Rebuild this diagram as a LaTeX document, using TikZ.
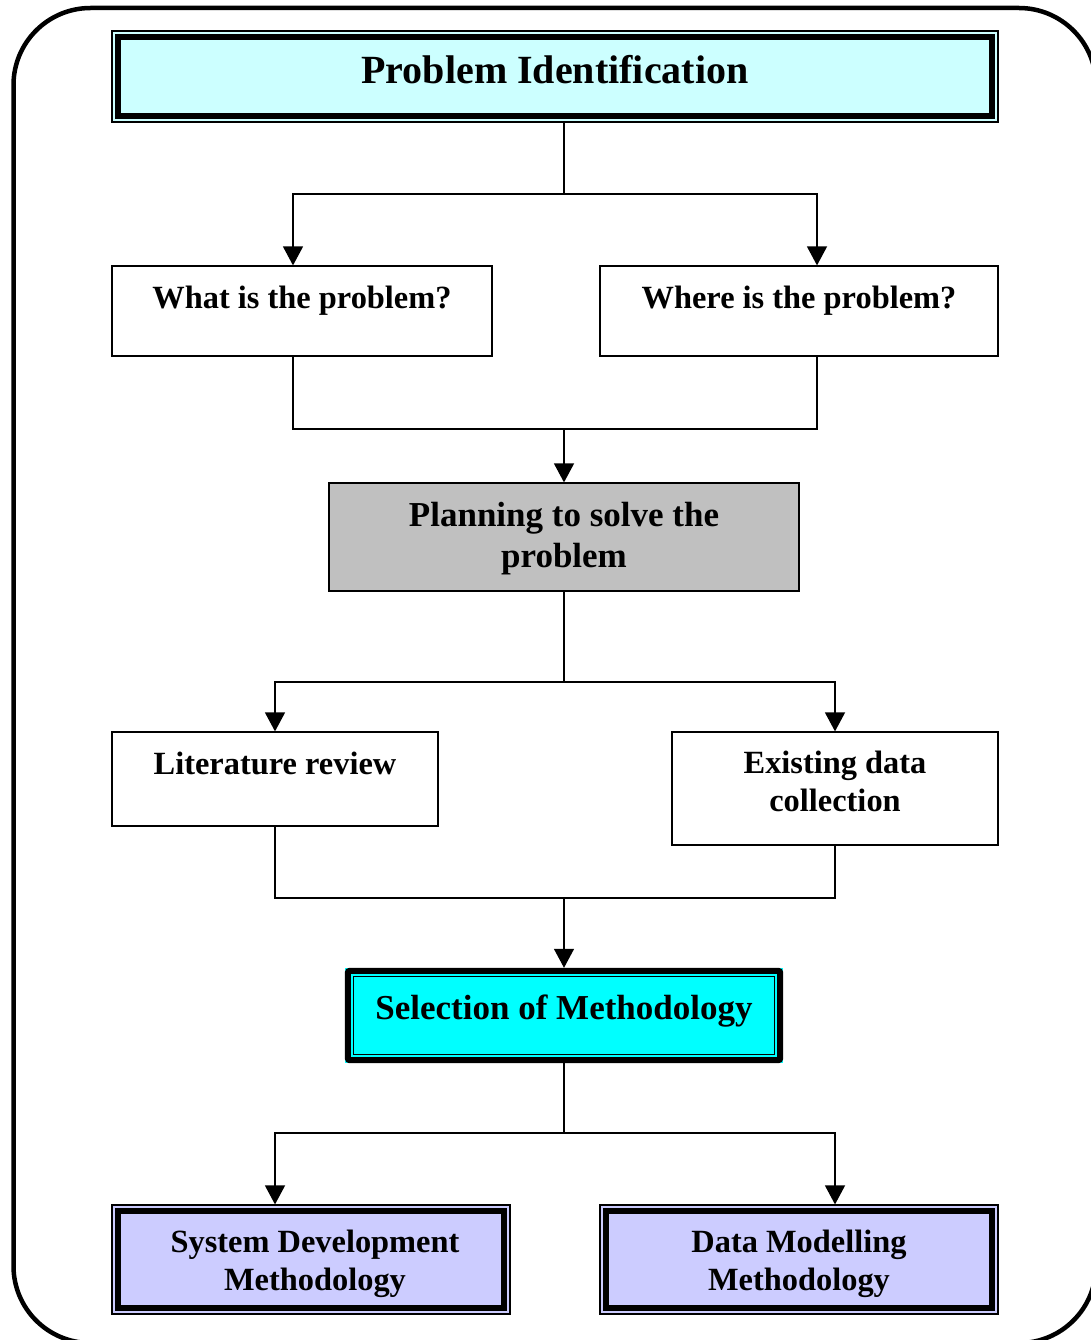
\documentclass[tikz,border=0pt]{standalone}
\usepackage{fontspec}
\setmainfont{Liberation Serif}
\usetikzlibrary{arrows.meta}
\definecolor{lcyan}{HTML}{CCFFFF}
\definecolor{fcyan}{HTML}{00FFFF}
\definecolor{lgray}{HTML}{C0C0C0}
\definecolor{lviolet}{HTML}{CCCCFF}
\tikzset{
  box/.style={draw=black, line width=1.2pt, inner sep=0pt, minimum width=#1},
  txt/.style={font=\bfseries\fontsize{32.4}{38}\selectfont, align=center, anchor=base, inner sep=0pt},
  bigtxt/.style={font=\bfseries\fontsize{35}{41}\selectfont, align=center, anchor=base, inner sep=0pt},
  conn/.style={line width=1.4pt},
  arr/.style={conn, -{Triangle[length=19pt,width=20pt]}},
  thickin/.style={line width=6pt, black},
}
\begin{document}
\begin{tikzpicture}[x=1pt,y=-1pt]
\useasboundingbox (0,0) rectangle (1090,1340);
% outer frame
\draw[line width=4.5pt, rounded corners=77pt] (13.5,8) rectangle (1096,1343);

% Problem identification
\node[box=886pt, minimum height=91pt, fill=lcyan] (pid) at (555,76.5) {};
\draw[thickin] ([xshift=7pt,yshift=-7pt]pid.north west) rectangle ([xshift=-7pt,yshift=7pt]pid.south east);
\node[txt, font=\bfseries\fontsize{40}{48}\selectfont] (tpid) at (555,84) {Problem Identification};

% what / where
\node[box=380pt, minimum height=90pt] (what) at (302,311) {};
\node[txt] (twhat) at (302,308) {What is the problem?};
\node[box=398pt, minimum height=90pt] (where) at (799,311) {};
\node[txt] (twhere) at (799,308) {Where is the problem?};

% planning
\node[box=470pt, minimum height=108pt, fill=lgray] (plan) at (564,537) {};
\node[bigtxt] (tplan) at (564,567) {Planning to solve the\\problem};

% literature / existing
\node[box=326pt, minimum height=94pt] (lit) at (275,779) {};
\node[txt] (tlit) at (275,774) {Literature review};
\node[box=326pt, minimum height=113pt] (exist) at (835,788.5) {};
\node[txt] (texist) at (835,811) {Existing data\\collection};

% selection
\node[inner sep=0pt, minimum width=438pt, minimum height=95pt, fill=fcyan] (sel) at (564,1015.5) {};
\draw[thickin, rounded corners=2pt] ([xshift=3pt,yshift=-3pt]sel.north west) rectangle ([xshift=-3pt,yshift=3pt]sel.south east);
\draw[line width=1.2pt] ([xshift=9pt,yshift=-9pt]sel.north west) rectangle ([xshift=-9pt,yshift=9pt]sel.south east);
\node[bigtxt] (tsel) at (564,1019.5) {Selection of Methodology};

% bottom boxes
\node[box=398pt, minimum height=109pt, fill=lviolet] (sdm) at (311,1259.5) {};
\draw[thickin] ([xshift=7pt,yshift=-7pt]sdm.north west) rectangle ([xshift=-7pt,yshift=7pt]sdm.south east);
\node[txt] (tsdm) at (315,1290) {System Development\\Methodology};
\node[box=398pt, minimum height=109pt, fill=lviolet] (dmm) at (799,1259.5) {};
\draw[thickin] ([xshift=7pt,yshift=-7pt]dmm.north west) rectangle ([xshift=-7pt,yshift=7pt]dmm.south east);
\node[txt] (tdmm) at (799,1290) {Data Modelling\\Methodology};

% connectors
\coordinate (j1) at (564,194);
\draw[conn] ([xshift=9pt]pid.south) -- (j1);
\draw[arr] (j1) -| ([xshift=-9pt]what.north);
\draw[arr] (j1) -| ([xshift=18pt]where.north);

\coordinate (j2) at (564,429);
\draw[conn] ([xshift=-9pt]what.south) |- (j2);
\draw[conn] ([xshift=18pt]where.south) |- (j2);
\draw[arr] (j2) -- (plan.north);

\coordinate (j3) at (564,682);
\draw[conn] (plan.south) -- (j3);
\draw[arr] (j3) -| (lit.north);
\draw[arr] (j3) -| (exist.north);

\coordinate (j4) at (564,898);
\draw[conn] (lit.south) |- (j4);
\draw[conn] (exist.south) |- (j4);
\draw[arr] (j4) -- (sel.north);

\coordinate (j5) at (564,1133);
\draw[conn] (sel.south) -- (j5);
\draw[arr] (j5) -| ([xshift=-36pt]sdm.north);
\draw[arr] (j5) -| ([xshift=36pt]dmm.north);
\end{tikzpicture}
\end{document}
